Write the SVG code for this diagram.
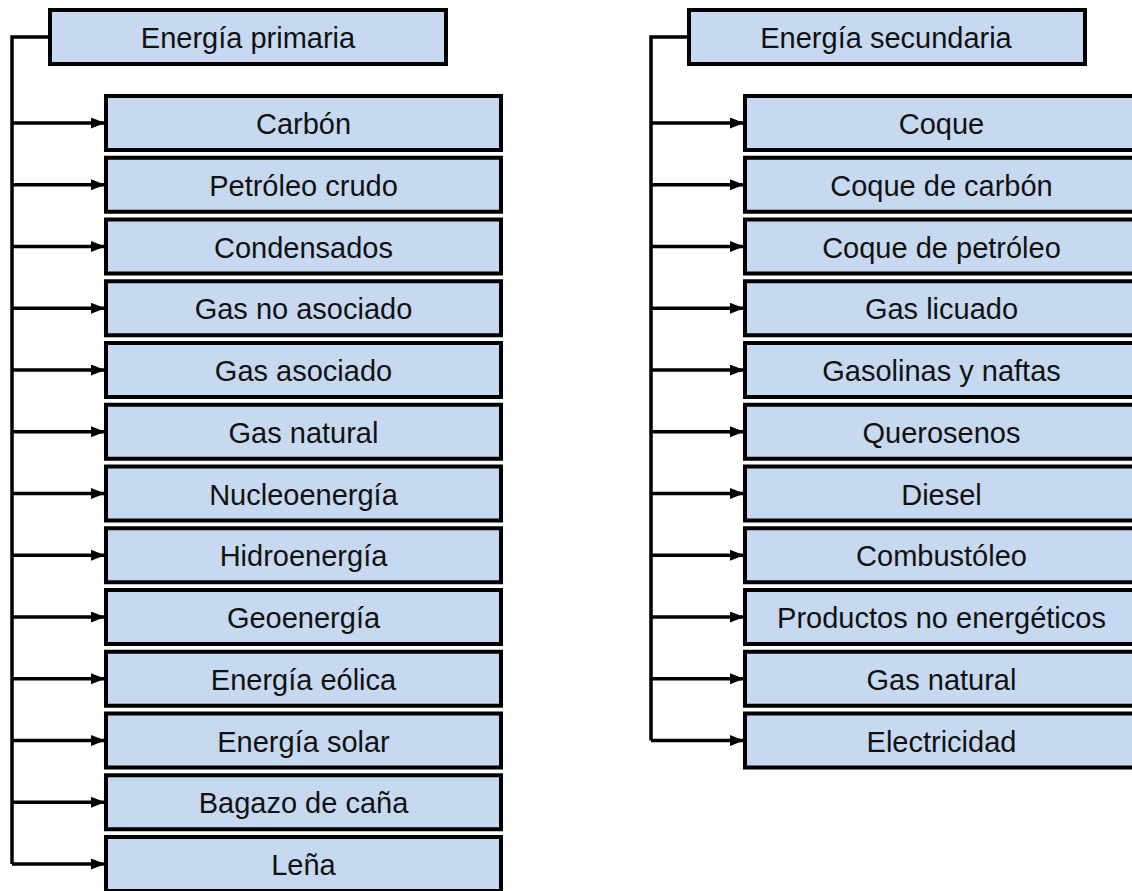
<svg xmlns="http://www.w3.org/2000/svg" width="1132" height="891" viewBox="0 0 1132 891">
<style>
.box{fill:#c6d9f0;stroke:#000;stroke-width:4}
.t{font-family:"Liberation Sans",Arial,sans-serif;font-size:29px;fill:#111;text-anchor:middle}
.c{fill:none;stroke:#000;stroke-width:3.5}
</style>
<defs>
<marker id="ah" markerUnits="userSpaceOnUse" markerWidth="14" markerHeight="11" refX="14" refY="5.5" orient="auto">
<path d="M0,0 L14,5.5 L0,11 z" fill="#000"/>
</marker>
</defs>
<rect width="1132" height="891" fill="#fff"/>
<g id="connectors">
<path class="c" d="M50,37 H12 V864"/>
<path class="c" d="M12,123 H105" marker-end="url(#ah)"/>
<path class="c" d="M12,184.75 H105" marker-end="url(#ah)"/>
<path class="c" d="M12,246.5 H105" marker-end="url(#ah)"/>
<path class="c" d="M12,308.25 H105" marker-end="url(#ah)"/>
<path class="c" d="M12,370 H105" marker-end="url(#ah)"/>
<path class="c" d="M12,431.75 H105" marker-end="url(#ah)"/>
<path class="c" d="M12,493.5 H105" marker-end="url(#ah)"/>
<path class="c" d="M12,555.25 H105" marker-end="url(#ah)"/>
<path class="c" d="M12,617 H105" marker-end="url(#ah)"/>
<path class="c" d="M12,678.75 H105" marker-end="url(#ah)"/>
<path class="c" d="M12,740.5 H105" marker-end="url(#ah)"/>
<path class="c" d="M12,802.25 H105" marker-end="url(#ah)"/>
<path class="c" d="M12,864 H105" marker-end="url(#ah)"/>
<path class="c" d="M689,37 H651 V740.5"/>
<path class="c" d="M651,123 H744" marker-end="url(#ah)"/>
<path class="c" d="M651,184.75 H744" marker-end="url(#ah)"/>
<path class="c" d="M651,246.5 H744" marker-end="url(#ah)"/>
<path class="c" d="M651,308.25 H744" marker-end="url(#ah)"/>
<path class="c" d="M651,370 H744" marker-end="url(#ah)"/>
<path class="c" d="M651,431.75 H744" marker-end="url(#ah)"/>
<path class="c" d="M651,493.5 H744" marker-end="url(#ah)"/>
<path class="c" d="M651,555.25 H744" marker-end="url(#ah)"/>
<path class="c" d="M651,617 H744" marker-end="url(#ah)"/>
<path class="c" d="M651,678.75 H744" marker-end="url(#ah)"/>
<path class="c" d="M651,740.5 H744" marker-end="url(#ah)"/>
</g>
<g id="primaria"><rect class="box" x="50" y="10" width="396" height="54"/><text class="t" x="248" y="48">Energía primaria</text></g>
<g id="p1"><rect class="box" x="106" y="96" width="395" height="54"/><text class="t" x="303.5" y="134">Carbón</text></g>
<g id="p2"><rect class="box" x="106" y="157.75" width="395" height="54"/><text class="t" x="303.5" y="195.75">Petróleo crudo</text></g>
<g id="p3"><rect class="box" x="106" y="219.5" width="395" height="54"/><text class="t" x="303.5" y="257.5">Condensados</text></g>
<g id="p4"><rect class="box" x="106" y="281.25" width="395" height="54"/><text class="t" x="303.5" y="319.25">Gas no asociado</text></g>
<g id="p5"><rect class="box" x="106" y="343" width="395" height="54"/><text class="t" x="303.5" y="381">Gas asociado</text></g>
<g id="p6"><rect class="box" x="106" y="404.75" width="395" height="54"/><text class="t" x="303.5" y="442.75">Gas natural</text></g>
<g id="p7"><rect class="box" x="106" y="466.5" width="395" height="54"/><text class="t" x="303.5" y="504.5">Nucleoenergía</text></g>
<g id="p8"><rect class="box" x="106" y="528.25" width="395" height="54"/><text class="t" x="303.5" y="566.25">Hidroenergía</text></g>
<g id="p9"><rect class="box" x="106" y="590" width="395" height="54"/><text class="t" x="303.5" y="628">Geoenergía</text></g>
<g id="p10"><rect class="box" x="106" y="651.75" width="395" height="54"/><text class="t" x="303.5" y="689.75">Energía eólica</text></g>
<g id="p11"><rect class="box" x="106" y="713.5" width="395" height="54"/><text class="t" x="303.5" y="751.5">Energía solar</text></g>
<g id="p12"><rect class="box" x="106" y="775.25" width="395" height="54"/><text class="t" x="303.5" y="813.25">Bagazo de caña</text></g>
<g id="p13"><rect class="box" x="106" y="837" width="395" height="54"/><text class="t" x="303.5" y="875">Leña</text></g>
<g id="secundaria"><rect class="box" x="689" y="10" width="396" height="54"/><text class="t" x="886" y="48">Energía secundaria</text></g>
<g id="s1"><rect class="box" x="745" y="96" width="393" height="54"/><text class="t" x="941.5" y="134">Coque</text></g>
<g id="s2"><rect class="box" x="745" y="157.75" width="393" height="54"/><text class="t" x="941.5" y="195.75">Coque de carbón</text></g>
<g id="s3"><rect class="box" x="745" y="219.5" width="393" height="54"/><text class="t" x="941.5" y="257.5">Coque de petróleo</text></g>
<g id="s4"><rect class="box" x="745" y="281.25" width="393" height="54"/><text class="t" x="941.5" y="319.25">Gas licuado</text></g>
<g id="s5"><rect class="box" x="745" y="343" width="393" height="54"/><text class="t" x="941.5" y="381">Gasolinas y naftas</text></g>
<g id="s6"><rect class="box" x="745" y="404.75" width="393" height="54"/><text class="t" x="941.5" y="442.75">Querosenos</text></g>
<g id="s7"><rect class="box" x="745" y="466.5" width="393" height="54"/><text class="t" x="941.5" y="504.5">Diesel</text></g>
<g id="s8"><rect class="box" x="745" y="528.25" width="393" height="54"/><text class="t" x="941.5" y="566.25">Combustóleo</text></g>
<g id="s9"><rect class="box" x="745" y="590" width="393" height="54"/><text class="t" x="941.5" y="628">Productos no energéticos</text></g>
<g id="s10"><rect class="box" x="745" y="651.75" width="393" height="54"/><text class="t" x="941.5" y="689.75">Gas natural</text></g>
<g id="s11"><rect class="box" x="745" y="713.5" width="393" height="54"/><text class="t" x="941.5" y="751.5">Electricidad</text></g>
</svg>
